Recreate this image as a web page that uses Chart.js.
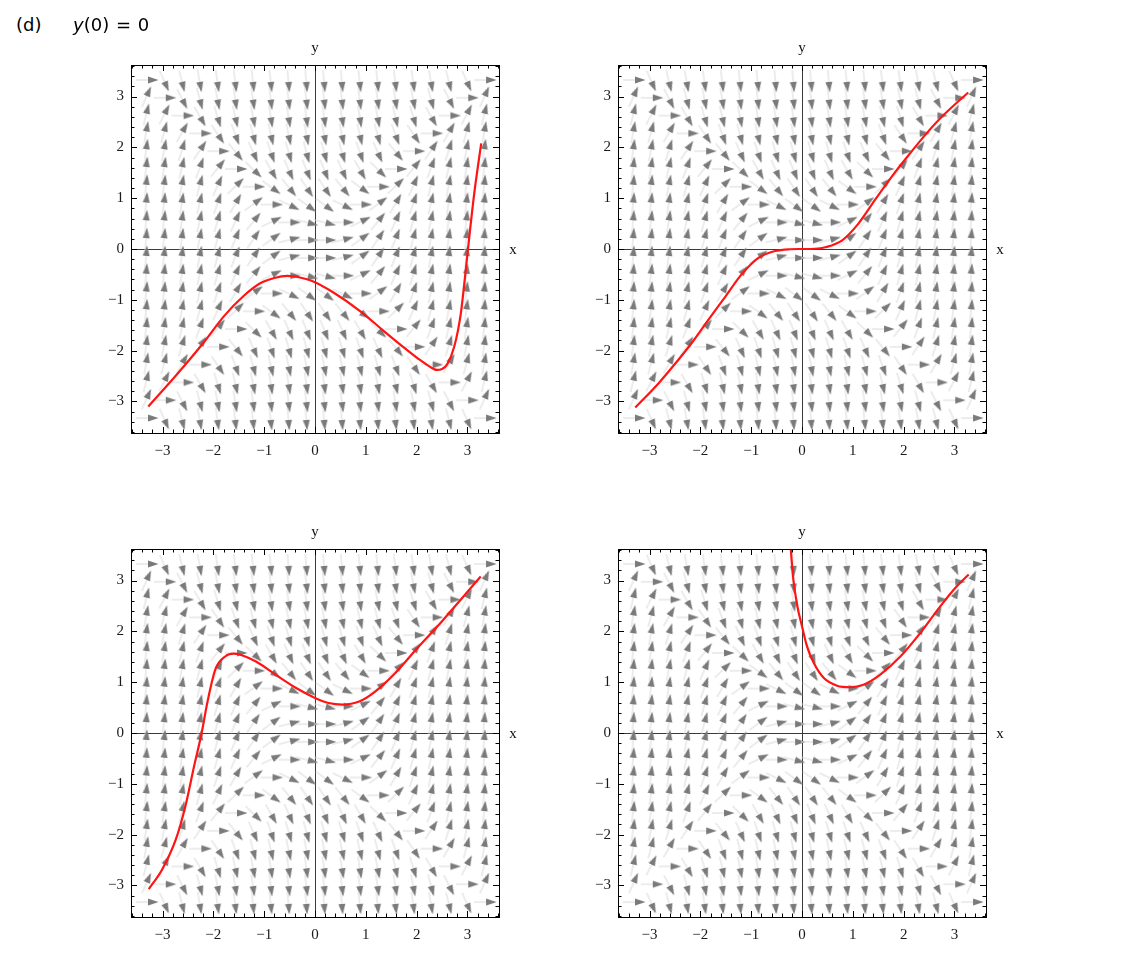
<!DOCTYPE html>
<html>
<head>
<meta charset="utf-8">
<script src="https://cdn.jsdelivr.net/npm/chart.js@4.4.0/dist/chart.umd.min.js"></script>
<style>
  body { margin: 0; background: #fff; width: 1146px; height: 956px; position: relative; overflow: hidden; }
  canvas.panel { position: absolute; }
  .title { position: absolute; top: 14px; font: 18px "DejaVu Sans", sans-serif; line-height: 22px; color: #000; white-space: pre; z-index: 2; }
</style>
</head>
<body>
<div class="title" style="left:16px">(d)</div>
<div class="title" style="left:73px; word-spacing: 1px"><i>y</i>(0) = 0</div>
<canvas id="p1" class="panel" width="443" height="438" style="left:91px;top:30px"></canvas>
<canvas id="p2" class="panel" width="443" height="438" style="left:578px;top:30px"></canvas>
<canvas id="p3" class="panel" width="443" height="438" style="left:91px;top:514px"></canvas>
<canvas id="p4" class="panel" width="443" height="438" style="left:578px;top:514px"></canvas>
<script>
// direction field grid (same in all four panels)
var fieldX = [-3.325, -2.975, -2.625, -2.275, -1.925, -1.575, -1.225, -0.875, -0.525, -0.175,
  0.175, 0.525, 0.875, 1.225, 1.575, 1.925, 2.275, 2.625, 2.975, 3.325];
var fieldY = [3.325, 2.975, 2.625, 2.275, 1.925, 1.575, 1.225, 0.875, 0.525, 0.175,
  -0.175, -0.525, -0.875, -1.225, -1.575, -1.925, -2.275, -2.625, -2.975, -3.325];
// arrow direction in degrees, one row per fieldY value
var fieldAngle = [
  [0, -66, -76, -80, -82, -83, -84, -84, -85, -85, -85, -85, -84, -84, -83, -82, -80, -76, -66, 0],
  [66, 0, -63, -75, -79, -81, -82, -83, -83, -83, -83, -83, -83, -82, -81, -79, -75, -63, 0, 66],
  [76, 63, 0, -60, -73, -77, -79, -81, -81, -82, -82, -81, -81, -79, -77, -73, -60, 0, 63, 76],
  [80, 75, 60, 0, -56, -70, -75, -77, -78, -79, -79, -78, -77, -75, -70, -56, 0, 60, 75, 80],
  [82, 79, 73, 56, 0, -51, -66, -71, -74, -75, -75, -74, -71, -66, -51, 0, 56, 73, 79, 82],
  [83, 81, 77, 70, 51, 0, -44, -60, -66, -68, -68, -66, -60, -44, 0, 51, 70, 77, 81, 83],
  [84, 82, 79, 75, 66, 44, 0, -36, -51, -56, -56, -51, -36, 0, 44, 66, 75, 79, 82, 84],
  [84, 83, 81, 77, 71, 60, 36, 0, -26, -36, -36, -26, 0, 36, 60, 71, 77, 81, 83, 84],
  [85, 83, 81, 78, 74, 66, 51, 26, 0, -14, -14, 0, 26, 51, 66, 74, 78, 81, 83, 85],
  [85, 83, 82, 79, 75, 68, 56, 36, 14, 0, 0, 14, 36, 56, 68, 75, 79, 82, 83, 85],
  [85, 83, 82, 79, 75, 68, 56, 36, 14, 0, 0, 14, 36, 56, 68, 75, 79, 82, 83, 85],
  [85, 83, 81, 78, 74, 66, 51, 26, 0, -14, -14, 0, 26, 51, 66, 74, 78, 81, 83, 85],
  [84, 83, 81, 77, 71, 60, 36, 0, -26, -36, -36, -26, 0, 36, 60, 71, 77, 81, 83, 84],
  [84, 82, 79, 75, 66, 44, 0, -36, -51, -56, -56, -51, -36, 0, 44, 66, 75, 79, 82, 84],
  [83, 81, 77, 70, 51, 0, -44, -60, -66, -68, -68, -66, -60, -44, 0, 51, 70, 77, 81, 83],
  [82, 79, 73, 56, 0, -51, -66, -71, -74, -75, -75, -74, -71, -66, -51, 0, 56, 73, 79, 82],
  [80, 75, 60, 0, -56, -70, -75, -77, -78, -79, -79, -78, -77, -75, -70, -56, 0, 60, 75, 80],
  [76, 63, 0, -60, -73, -77, -79, -81, -81, -82, -82, -81, -81, -79, -77, -73, -60, 0, 63, 76],
  [66, 0, -63, -75, -79, -81, -82, -83, -83, -83, -83, -83, -83, -82, -81, -79, -75, -63, 0, 66],
  [0, -66, -76, -80, -82, -83, -84, -84, -85, -85, -85, -85, -84, -84, -83, -82, -80, -76, -66, 0]
];

var axisTicks = [-3, -2, -1, 0, 1, 2, 3];

// red solution curves
var curve1X = [-3.28, -2.71, -2.19, -1.79, -1.40, -1.07, -0.80, -0.54, -0.30, -0.08, 0.37, 0.90, 1.36, 1.69, 2.02, 2.25, 2.40, 2.50, 2.60, 2.74, 2.87, 2.96, 3.01, 3.13, 3.27];
var curve1Y = [-3.10, -2.46, -1.84, -1.32, -0.92, -0.67, -0.57, -0.53, -0.56, -0.62, -0.86, -1.23, -1.62, -1.89, -2.15, -2.31, -2.38, -2.36, -2.27, -1.92, -1.26, -0.47, 0.0, 1.07, 2.08];

var curve2X = [-3.28, -2.82, -2.49, -2.17, -1.84, -1.51, -1.18, -0.85, -0.53, -0.25, 0, 0.25, 0.46, 0.79, 1.11, 1.44, 1.77, 2.10, 2.43, 2.76, 3.27];
var curve2Y = [-3.12, -2.64, -2.25, -1.85, -1.39, -0.94, -0.49, -0.17, -0.04, -0.005, 0, 0.005, 0.035, 0.17, 0.50, 0.97, 1.43, 1.85, 2.25, 2.61, 3.08];

var curve3X = [-3.27, -3.01, -2.74, -2.55, -2.38, -2.23, -2.12, -1.96, -1.76, -1.60, -1.50, -1.17, -0.78, -0.38, 0, 0.27, 0.54, 0.87, 1.19, 1.58, 2.04, 2.50, 2.90, 3.26];
var curve3Y = [-3.07, -2.69, -2.10, -1.44, -0.66, 0, 0.59, 1.25, 1.51, 1.56, 1.55, 1.41, 1.15, 0.89, 0.69, 0.59, 0.56, 0.62, 0.82, 1.18, 1.70, 2.20, 2.66, 3.08];

var curve4X = [-0.25, -0.22, -0.17, -0.09, 0, 0.10, 0.23, 0.43, 0.69, 0.95, 1.21, 1.54, 1.94, 2.33, 2.72, 3.05, 3.28];
var curve4Y = [4.15, 3.62, 3.02, 2.49, 2.10, 1.70, 1.38, 1.08, 0.93, 0.90, 0.95, 1.15, 1.51, 1.97, 2.49, 2.89, 3.12];

// arrow marker: light shaft, dark head, pointing right, centred on the grid point
function makeArrow() {
  var c = document.createElement("canvas");
  c.width = 30;
  c.height = 30;
  var g = c.getContext("2d");
  g.strokeStyle = "#d9d9d9";
  g.lineWidth = 1;
  g.beginPath();
  g.moveTo(5, 15);
  g.lineTo(18, 15);
  g.stroke();
  g.fillStyle = "#7a7a7a";
  g.beginPath();
  g.moveTo(27.5, 15);
  g.lineTo(17, 11.4);
  g.lineTo(17, 18.6);
  g.closePath();
  g.fill();
  return c;
}
var arrowImg = makeArrow();

function fmt(v) {
  return v < 0 ? "\u2212" + Math.abs(v) : String(v);
}

// frame with inward ticks, zero axes and axis names
var framePlugin = {
  id: "frame",
  beforeDatasetsDraw: function (chart) {
    var ctx = chart.ctx, a = chart.chartArea;
    var x0 = Math.round(chart.scales.x.getPixelForValue(0)) + 0.5;
    var y0 = Math.round(chart.scales.y.getPixelForValue(0)) + 0.5;
    ctx.save();
    ctx.strokeStyle = "#3a3a3a";
    ctx.lineWidth = 1;
    ctx.beginPath();
    ctx.moveTo(x0, a.top);
    ctx.lineTo(x0, a.bottom);
    ctx.moveTo(a.left, y0);
    ctx.lineTo(a.right, y0);
    ctx.stroke();
    ctx.restore();
  },
  afterDatasetsDraw: function (chart) {
    var ctx = chart.ctx, a = chart.chartArea;
    var sx = chart.scales.x, sy = chart.scales.y;
    ctx.save();
    ctx.strokeStyle = "#000";
    ctx.lineWidth = 1;
    ctx.strokeRect(Math.round(a.left) + 0.5, Math.round(a.top) + 0.5,
      Math.round(a.right - a.left), Math.round(a.bottom - a.top));
    ctx.beginPath();
    for (var k = -18; k <= 18; k++) {
      var v = k / 5;
      var len = k % 5 === 0 ? 6 : 3.5;
      var px = Math.round(sx.getPixelForValue(v)) + 0.5;
      var py = Math.round(sy.getPixelForValue(v)) + 0.5;
      ctx.moveTo(px, a.bottom); ctx.lineTo(px, a.bottom - len);
      ctx.moveTo(px, a.top); ctx.lineTo(px, a.top + len);
      ctx.moveTo(a.left, py); ctx.lineTo(a.left + len, py);
      ctx.moveTo(a.right, py); ctx.lineTo(a.right - len, py);
    }
    ctx.stroke();
    ctx.fillStyle = "#111";
    ctx.font = "15px 'Liberation Serif', serif";
    ctx.textAlign = "center";
    ctx.textBaseline = "middle";
    ctx.fillText("y", sx.getPixelForValue(0), a.top - 17);
    ctx.fillText("x", a.right + 14, sy.getPixelForValue(0) + 1);
    ctx.restore();
  }
};

function axis(pos) {
  return {
    type: "linear",
    position: pos,
    min: -3.62,
    max: 3.62,
    afterBuildTicks: function (s) {
      s.ticks = axisTicks.map(function (v) { return { value: v }; });
    },
    afterFit: function (s) {
      if (pos === "left") s.width = 36; else s.height = 35;
    },
    ticks: {
      callback: fmt,
      autoSkip: false,
      maxRotation: 0,
      padding: pos === "left" ? 7 : 9,
      color: "#1a1a1a",
      font: { family: "'Liberation Serif', serif", size: 15 }
    },
    grid: { display: false, drawTicks: false },
    border: { display: false }
  };
}

function makePanel(id, cx, cy) {
  var arrows = [];
  fieldY.forEach(function (yv, r) {
    fieldX.forEach(function (xv, c) {
      arrows.push({ x: xv, y: yv, a: fieldAngle[r][c] });
    });
  });
  return new Chart(document.getElementById(id), {
    type: "scatter",
    data: {
      datasets: [
        {
          type: "line",
          data: cx.map(function (v, i) { return { x: v, y: cy[i] }; }),
          borderColor: "#ff1414",
          borderWidth: 2.2,
          pointRadius: 0,
          cubicInterpolationMode: "monotone",
          fill: false,
          order: 0
        },
        {
          data: arrows,
          pointStyle: arrowImg,
          pointRadius: 3,
          pointRotation: function (c) { return c.raw ? -c.raw.a : 0; },
          order: 1
        }
      ]
    },
    options: {
      responsive: false,
      animation: false,
      devicePixelRatio: 1,
      events: [],
      layout: { autoPadding: false, padding: { left: 4, top: 35, right: 35, bottom: 0 } },
      plugins: { legend: { display: false }, tooltip: { enabled: false } },
      scales: { x: axis("bottom"), y: axis("left") }
    },
    plugins: [framePlugin]
  });
}

makePanel("p1", curve1X, curve1Y);
makePanel("p2", curve2X, curve2Y);
makePanel("p3", curve3X, curve3Y);
makePanel("p4", curve4X, curve4Y);
</script>
</body>
</html>
